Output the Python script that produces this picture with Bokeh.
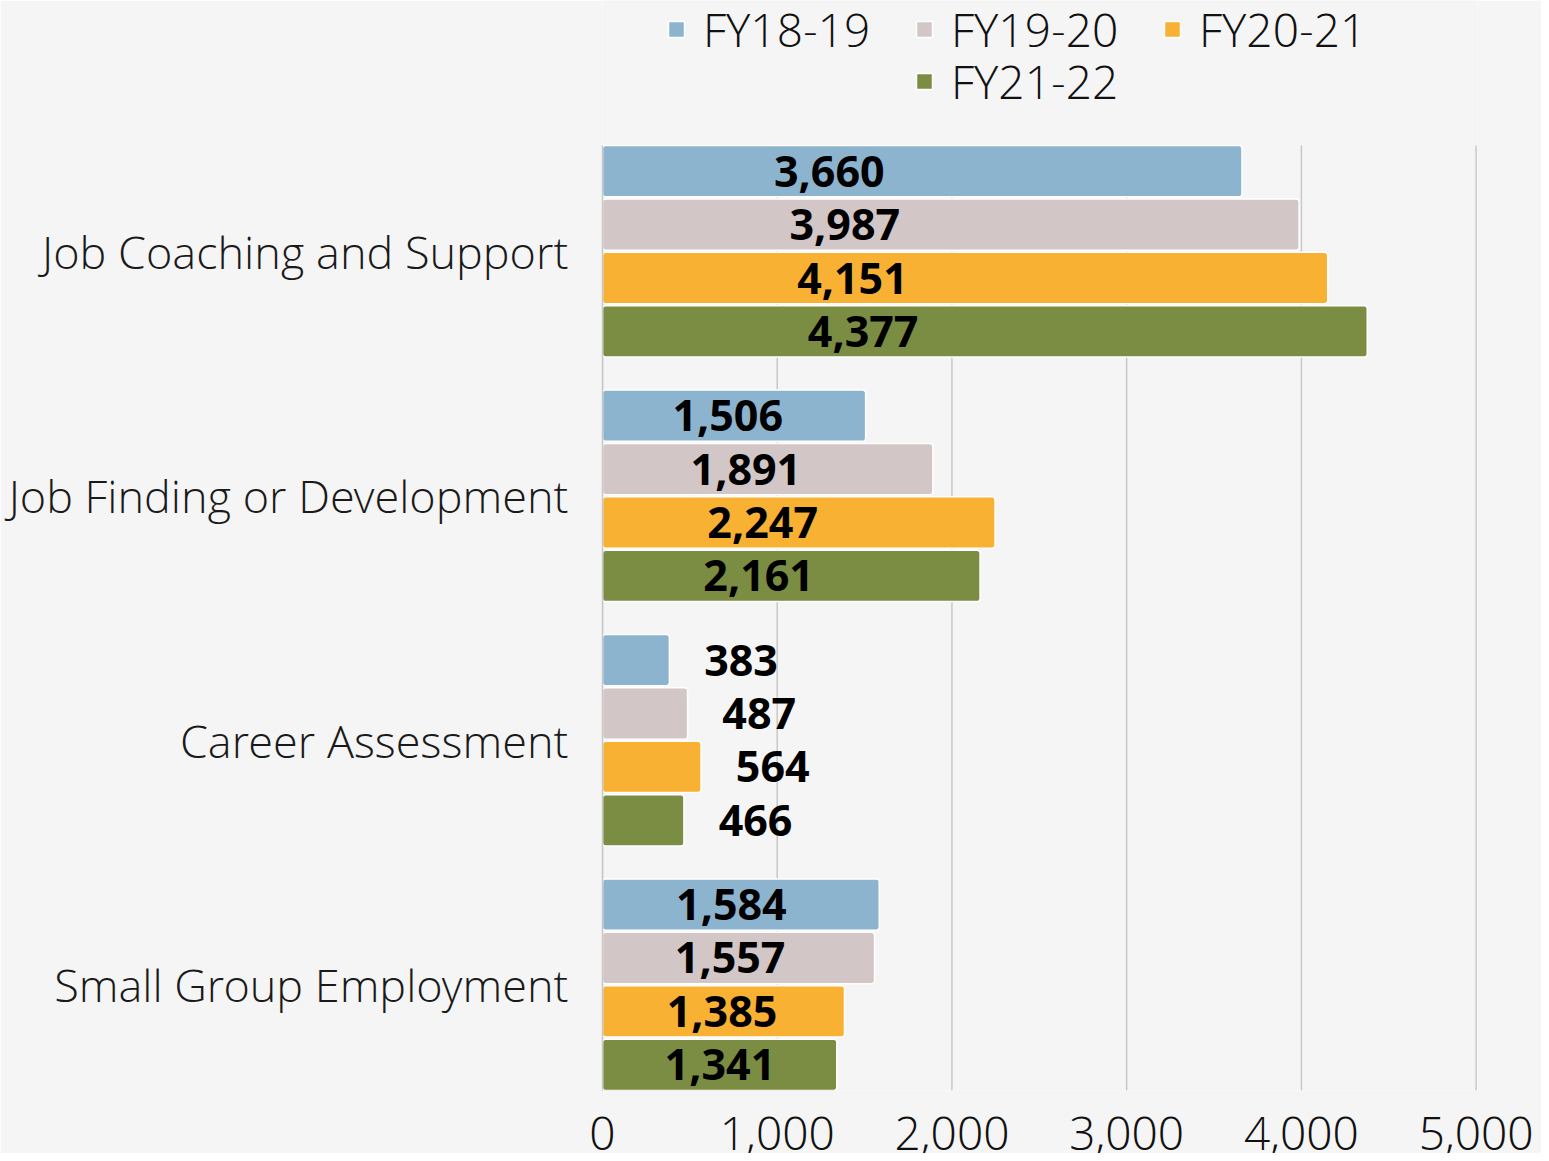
from bokeh.plotting import figure
from bokeh.models import (ColumnDataSource, Legend, LegendItem, FixedTicker,
                          NumeralTickFormatter, Range1d)
from bokeh.embed import file_html
from bokeh.resources import INLINE
from bokeh.core.properties import value

categories = ["Job Coaching and Support", "Job Finding or Development",
              "Career Assessment", "Small Group Employment"]
series = ["FY18-19", "FY19-20", "FY20-21", "FY21-22"]
fy18_19 = [3660, 1506, 383, 1584]
fy19_20 = [3987, 1891, 487, 1557]
fy20_21 = [4151, 2247, 564, 1385]
fy21_22 = [4377, 2161, 466, 1341]
colors = ["#8DB4CF", "#D2C6C6", "#F8B133", "#7B8C43"]
x_ticks = [0, 1000, 2000, 3000, 4000, 5000]

values = [fy18_19, fy19_20, fy20_21, fy21_22]
n = len(categories)
pitch = 0.2185
bar_h = 0.21
half = 1.5 * pitch + bar_h / 2

FONT = "Open Sans"
LIGHT = "Open Sans Light"
BG = "#F5F5F5"
GRID = "#C8C8C8"

# layout (pixels)
BARS_PX = 945          # height of the bar area
LEGEND_PX = 145        # legend band above the bars, inside the frame
FRAME_PX = BARS_PX + LEGEND_PX
unit_px = BARS_PX / (2 * half + n - 1)
y_lo = 0.5 - half
y_hi = n - 0.5 + half
y_top = y_hi + LEGEND_PX / unit_px

p = figure(width=1541, height=1153, output_backend="svg", toolbar_location=None,
           x_range=Range1d(0, 5008), y_range=Range1d(y_lo, y_top),
           min_border_left=602, min_border_right=64, min_border_top=0,
           min_border_bottom=1153 - FRAME_PX,
           background_fill_color=BG, border_fill_color=BG,
           outline_line_color=None)

# vertical grid lines limited to the bar area
p.segment(x0=x_ticks, y0=[y_lo] * len(x_ticks), x1=x_ticks,
          y1=[y_hi] * len(x_ticks), line_color=GRID, line_width=1.5)

cat_y = [n - 0.5 - i for i in range(n)]

renderers = []
for j, (name, vals, col) in enumerate(zip(series, values, colors)):
    off = (1.5 - j) * pitch
    ys = [c + off for c in cat_y]
    lx = [0.27 * v + 310 if v >= 1000 else v + 410 for v in vals]
    src = ColumnDataSource(dict(y=ys, right=vals, lx=lx,
                                lab=[f"{v:,}" for v in vals]))
    r = p.hbar(y="y", left=0, right="right", height=bar_h, source=src,
               fill_color=col, line_color="white", line_width=1.5,
               border_radius=3)
    renderers.append(r)
    p.text(x="lx", y="y", text="lab", source=src, text_align="center",
           text_baseline="middle", text_font=value(FONT),
           text_font_style="bold", text_font_size="43px", text_color="#000000")

legend_style = dict(orientation="horizontal", glyph_width=20, glyph_height=20,
                    label_standoff=17, label_width=211, label_height=52,
                    label_text_font=LIGHT, label_text_font_size="46px",
                    label_text_color="#111111", padding=0, margin=0, spacing=0,
                    border_line_color=None, background_fill_alpha=0)
legend_a = Legend(items=[LegendItem(label=series[k], renderers=[renderers[k]])
                         for k in range(3)],
                  location=(64, FRAME_PX - 60), **legend_style)
legend_b = Legend(items=[LegendItem(label=series[3], renderers=[renderers[3]])],
                  location=(312, FRAME_PX - 112), **legend_style)
p.add_layout(legend_a, "center")
p.add_layout(legend_b, "center")

p.xaxis.ticker = FixedTicker(ticks=x_ticks)
p.xaxis.formatter = NumeralTickFormatter(format="0,0")
p.xaxis.axis_line_color = None
p.xaxis.major_tick_line_color = None
p.xaxis.minor_tick_line_color = None
p.xaxis.major_label_text_font = LIGHT
p.xaxis.major_label_text_font_size = "46px"
p.xaxis.major_label_text_color = "#111111"
p.xaxis.major_label_standoff = 20

p.yaxis.ticker = FixedTicker(ticks=cat_y)
p.yaxis.bounds = (y_lo, y_hi)
p.yaxis.major_label_overrides = {c: name for c, name in zip(cat_y, categories)}
p.yaxis.axis_line_color = GRID
p.yaxis.axis_line_width = 1.5
p.yaxis.major_tick_line_color = None
p.yaxis.minor_tick_line_color = None
p.yaxis.major_tick_out = 0
p.yaxis.major_label_text_font = LIGHT
p.yaxis.major_label_text_font_size = "45px"
p.yaxis.major_label_text_color = "#1A1A1A"
p.yaxis.major_label_standoff = 34

p.xgrid.grid_line_color = None
p.ygrid.grid_line_color = None

open("out.html", "w").write(file_html(p, INLINE))
